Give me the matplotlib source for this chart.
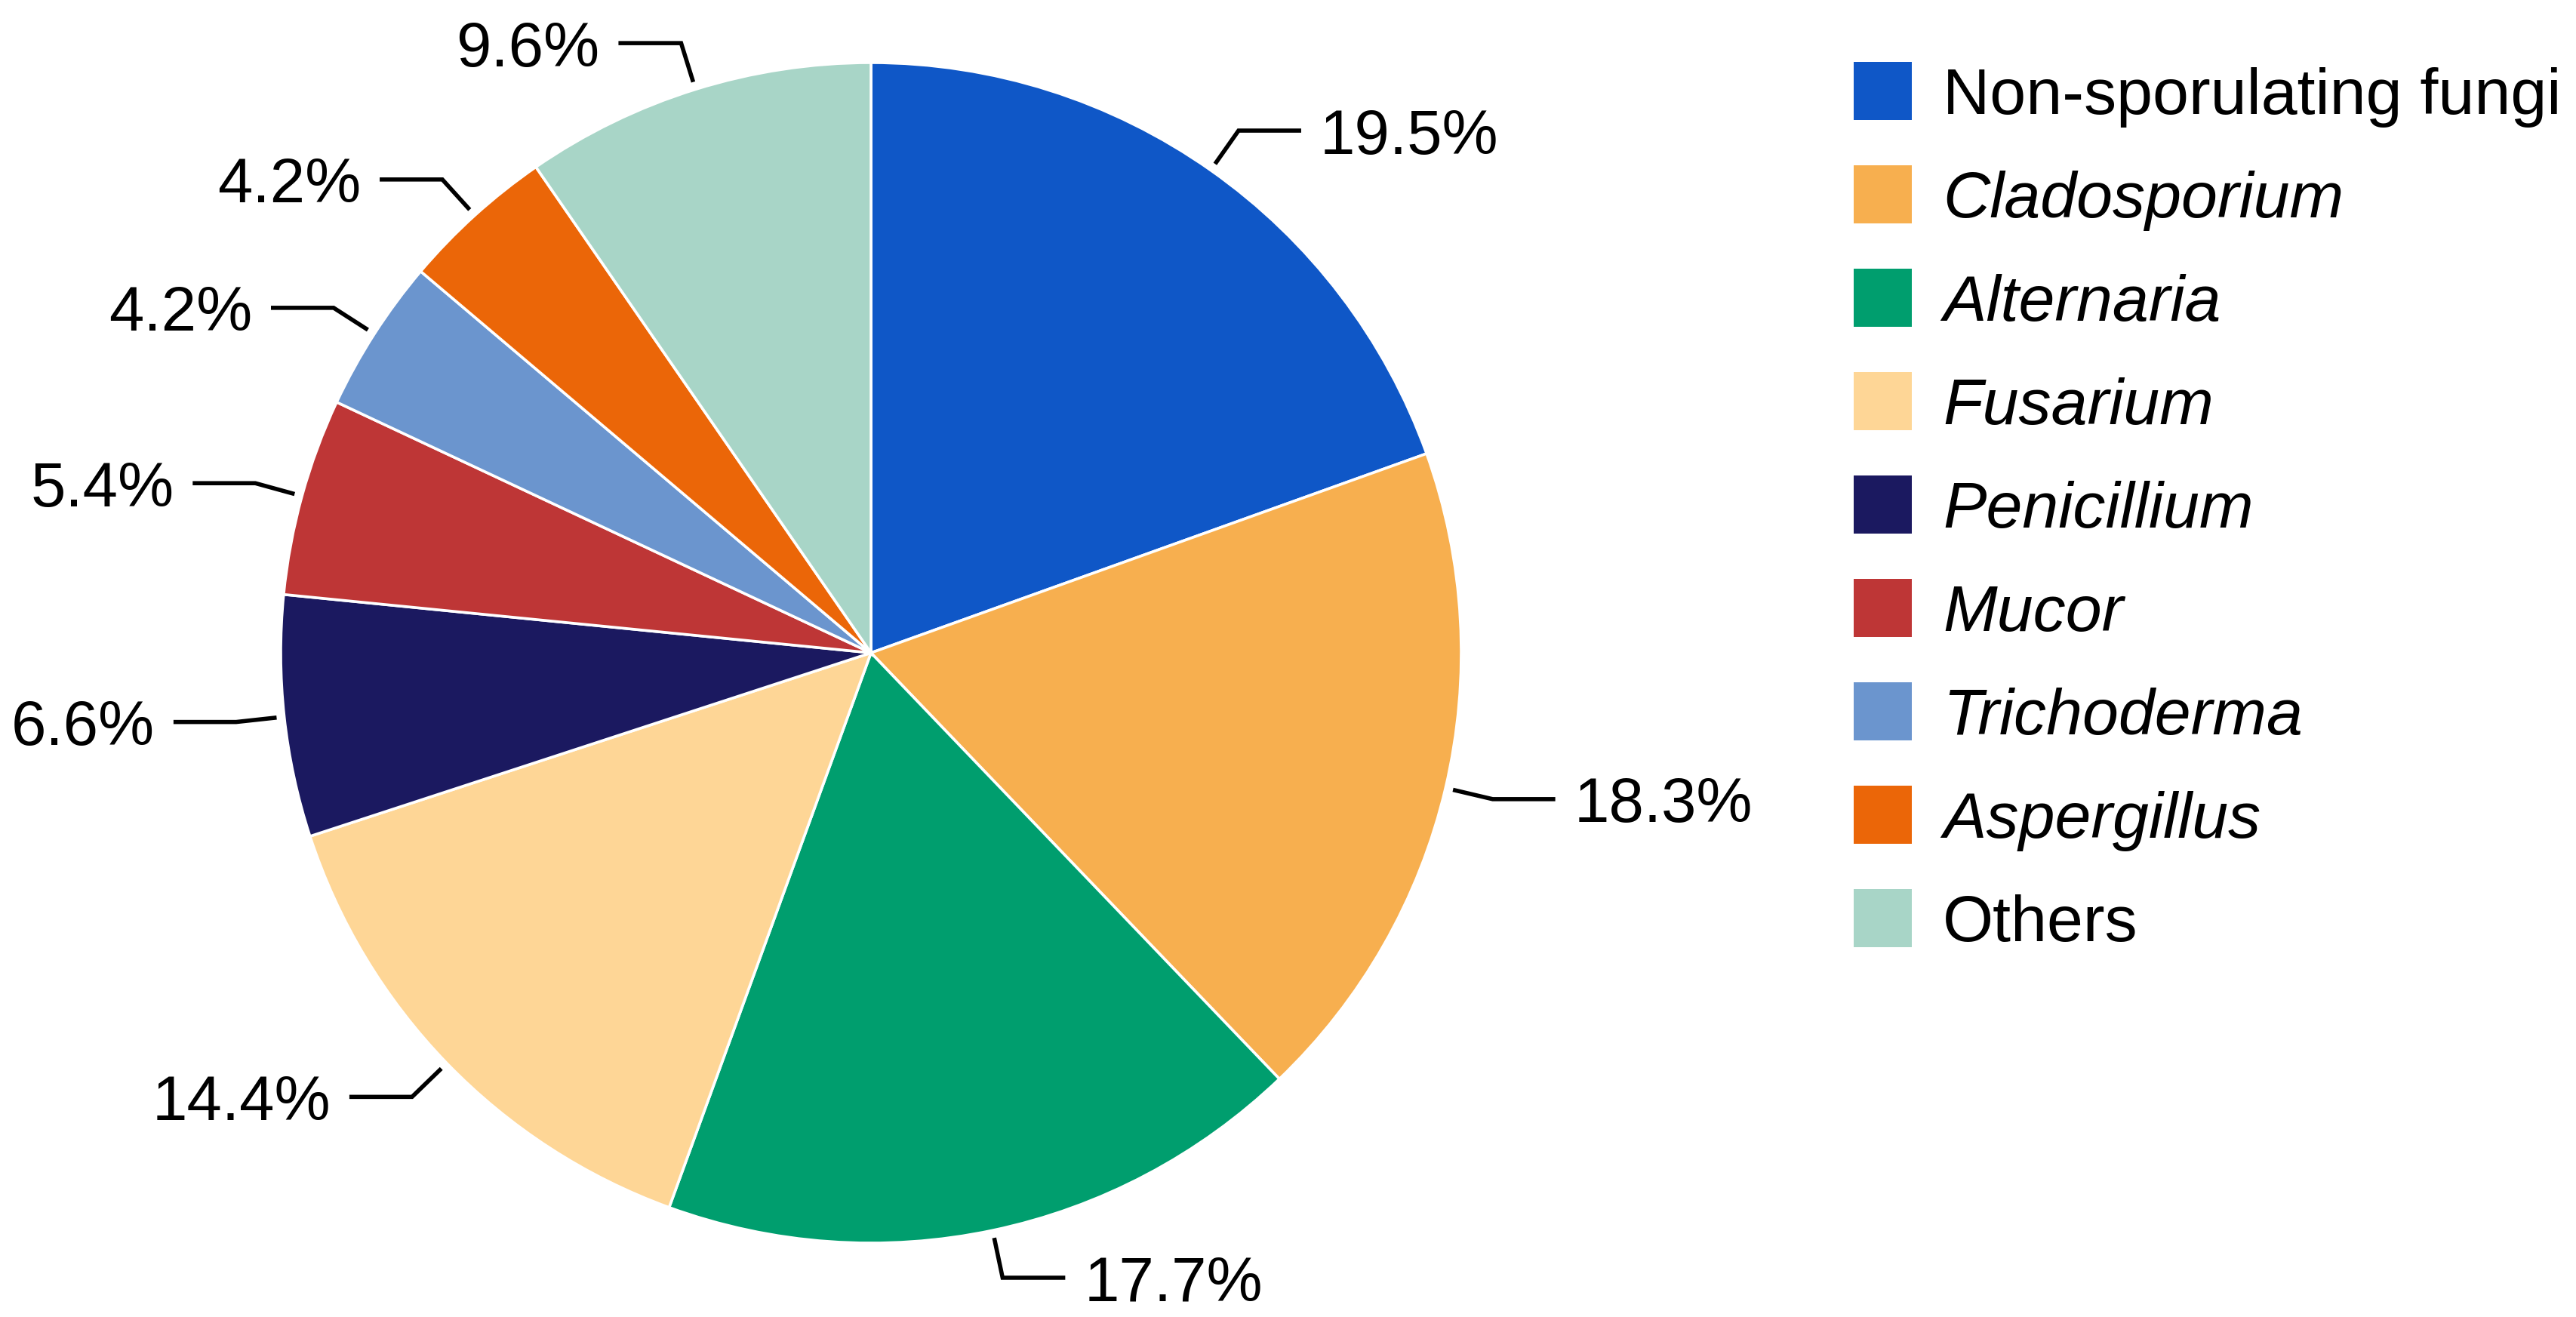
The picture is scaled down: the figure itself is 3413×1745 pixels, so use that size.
import numpy as np
import matplotlib
matplotlib.use("Agg")
import matplotlib.pyplot as plt
from matplotlib.patches import Rectangle

plt.rcParams['font.family'] = ['Liberation Sans', 'DejaVu Sans']

categories = ["Non-sporulating fungi", "Cladosporium", "Alternaria", "Fusarium",
              "Penicillium", "Mucor", "Trichoderma", "Aspergillus", "Others"]
values = [19.5, 18.3, 17.7, 14.4, 6.6, 5.4, 4.2, 4.2, 9.6]
italic = [False, True, True, True, True, True, True, True, False]
colors = ["#0F57C7", "#F7AF4F", "#009E6E", "#FED696", "#1B1960",
          "#BE3636", "#6B95CE", "#EB6608", "#A8D5C7"]

W, H = 3413, 1745
DPI = 200
fig = plt.figure(figsize=(W / DPI, H / DPI), dpi=DPI)
ax = fig.add_axes([0, 0, 1, 1])

cx, cy, R = 1154, H - 865, 782
ax.pie(values, colors=colors, startangle=90, counterclock=False,
       center=(cx, cy), radius=R, frame=True,
       wedgeprops=dict(edgecolor="white", linewidth=1.3))

ax.set_xlim(0, W)
ax.set_ylim(0, H)
ax.set_aspect("equal")
ax.axis("off")

FS_LBL = 30
FS_LEG = 31
total = sum(values)
cum = 0.0
for v in values:
    mid = np.deg2rad(90 - 360 * (cum + v / 2) / total)
    cum += v
    c, s = np.cos(mid), np.sin(mid)
    x0, y0 = cx + 1.013 * R * c, cy + 1.013 * R * s
    x1, y1 = cx + 1.082 * R * c, cy + 1.082 * R * s
    sign = 1 if c >= 0 else -1
    x2 = x1 + sign * 83
    ax.plot([x0, x1, x2], [y0, y1, y1], color="black", lw=2.0,
            solid_capstyle="butt", solid_joinstyle="miter")
    ax.text(x2 + sign * 25, y1, f"{v:.1f}%", fontsize=FS_LBL,
            ha="left" if sign > 0 else "right", va="center_baseline")

# legend
lx, ly0, step, sq = 2456, H - 120, 137, 77
for i, (name, col, it) in enumerate(zip(categories, colors, italic)):
    yc = ly0 - i * step
    ax.add_patch(Rectangle((lx, yc - sq / 2), sq, sq, facecolor=col,
                           edgecolor="none"))
    ax.text(lx + 118, yc, name, fontsize=FS_LEG, style="italic" if it else "normal",
            ha="left", va="center_baseline")

fig.savefig("out.png", dpi=DPI, facecolor="white")
